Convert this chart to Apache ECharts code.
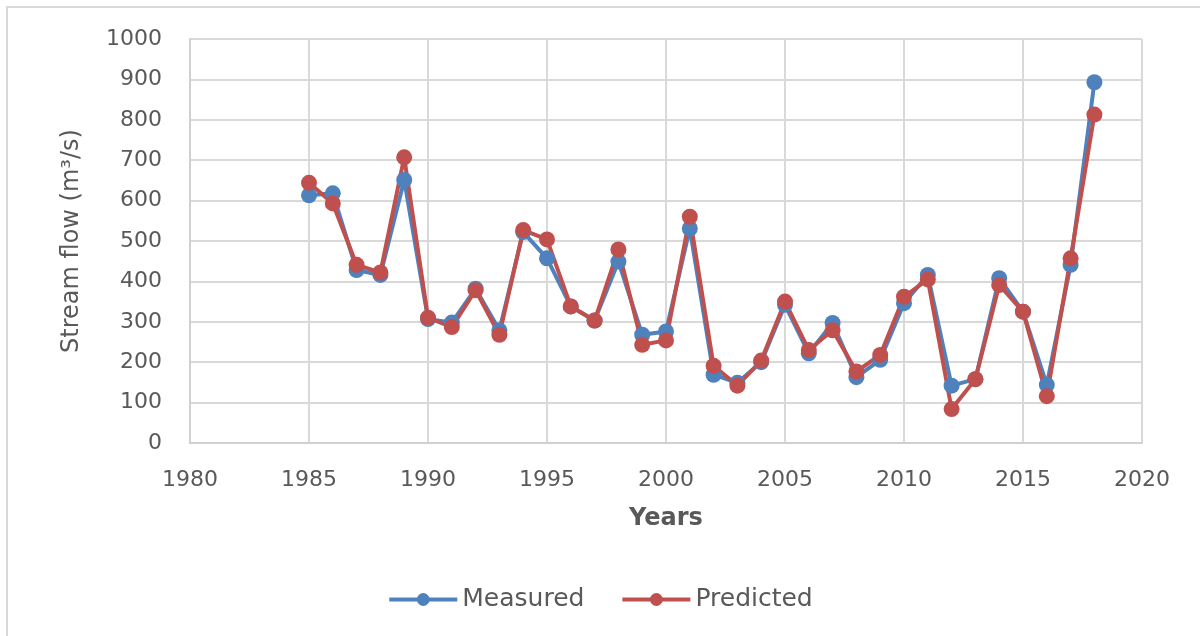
<!DOCTYPE html>
<html>
<head>
<meta charset="utf-8">
<script src="https://cdn.jsdelivr.net/npm/echarts@6/dist/echarts.min.js"></script>
<style>
  html, body { margin: 0; padding: 0; background: #fff; overflow: hidden; }
  #frame {
    position: absolute; left: 6px; top: 6px; width: 1200px; height: 640px;
    border-top: 2px solid #d9d9d9; border-left: 2px solid #d9d9d9;
  }
  #chart { position: absolute; left: 0; top: 0; width: 1200px; height: 636px; }
</style>
</head>
<body>
<div id="frame"></div>
<div id="chart"></div>
<script>
// stream flow, m3/s
const years = [1985, 1986, 1987, 1988, 1989, 1990, 1991, 1992, 1993, 1994,
  1995, 1996, 1997, 1998, 1999, 2000, 2001, 2002, 2003, 2004,
  2005, 2006, 2007, 2008, 2009, 2010, 2011, 2012, 2013, 2014,
  2015, 2016, 2017, 2018];
const measured = [613, 618, 428, 416, 651, 307, 298, 382, 279, 522,
  457, 338, 303, 449, 268, 276, 531, 169, 149, 200,
  342, 222, 297, 163, 206, 346, 416, 142, 158, 408,
  325, 144, 441, 893];
const predicted = [644, 593, 441, 422, 707, 310, 287, 378, 268, 527,
  504, 338, 303, 479, 243, 254, 560, 191, 142, 204,
  350, 230, 279, 177, 218, 362, 405, 84, 158, 391,
  325, 116, 457, 813];

const textColor = '#595959';
const font = 'DejaVu Sans';

let chart = echarts.init(document.getElementById('chart'), null, { renderer: 'canvas' });

let option = {
  animation: false,
  textStyle: { fontFamily: font, color: textColor },
  grid: { left: 190, right: 58, top: 39, bottom: 193 },
  legend: {
    bottom: 19,
    left: 'center',
    itemWidth: 68,
    itemHeight: 16,
    itemGap: 36,
    itemStyle: { borderWidth: 0 },
    lineStyle: { width: 4 },
    textStyle: { fontSize: 25, color: textColor, fontFamily: font },
    data: ['Measured', 'Predicted']
  },
  xAxis: {
    type: 'value',
    min: 1980,
    max: 2020,
    interval: 5,
    name: 'Years',
    nameLocation: 'middle',
    nameGap: 64,
    nameTextStyle: { fontSize: 24, fontWeight: 'bold', color: textColor, fontFamily: font },
    axisLine: { lineStyle: { color: '#d0d0d0', width: 2 } },
    axisTick: { show: false },
    axisLabel: { fontSize: 22, color: textColor, margin: 26, formatter: v => String(v) },
    splitLine: { lineStyle: { color: '#d9d9d9', width: 2 } }
  },
  yAxis: {
    type: 'value',
    min: 0,
    max: 1000,
    interval: 100,
    name: 'Stream flow (m³/s)',
    nameLocation: 'middle',
    nameGap: 106,
    nameTextStyle: { fontSize: 24, color: textColor, fontFamily: font },
    axisLine: { show: true, lineStyle: { color: '#d0d0d0', width: 2 } },
    axisTick: { show: false },
    axisLabel: { fontSize: 22, color: textColor, margin: 28, formatter: v => String(v) },
    splitLine: { lineStyle: { color: '#d9d9d9', width: 2 } }
  },
  series: [
    {
      name: 'Measured',
      type: 'line',
      data: years.map((y, i) => [y, measured[i]]),
      symbol: 'circle',
      symbolSize: 16,
      lineStyle: { color: '#4f81bd', width: 4 },
      itemStyle: { color: '#4f81bd' }
    },
    {
      name: 'Predicted',
      type: 'line',
      data: years.map((y, i) => [y, predicted[i]]),
      symbol: 'circle',
      symbolSize: 16,
      lineStyle: { color: '#c0504d', width: 4 },
      itemStyle: { color: '#c0504d' }
    }
  ]
};

chart.setOption(option);
</script>
</body>
</html>
